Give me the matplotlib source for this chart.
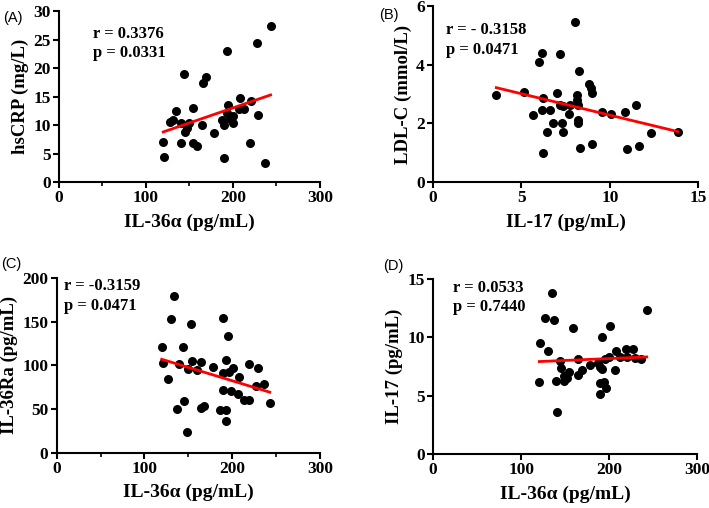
import numpy as np
import matplotlib
matplotlib.use("Agg")
import matplotlib.pyplot as plt
from matplotlib.ticker import MultipleLocator

plt.rcParams['font.family'] = ['Liberation Serif', 'DejaVu Serif']
plt.rcParams['font.weight'] = 'bold'

# (A) IL-36a vs hsCRP
a_x = [243.3, 227.6, 193.5, 144.1, 168.6, 165.2, 208.4, 193.9, 220.3, 154.4, 134.1, 206.5,
       213.0, 192.7, 228.4, 199.7, 187.7, 196.6, 200.4, 190.0, 178.5, 164.7, 127.6, 131.4,
       139.9, 149.8, 146.8, 144.8, 119.9, 139.9, 154.4, 159.0, 219.5, 121.0, 190.0, 236.8]
a_y = [27.4, 24.4, 22.9, 19.0, 18.5, 17.3, 14.8, 13.5, 14.2, 12.9, 12.5, 12.8,
       12.8, 12.05, 11.75, 11.6, 10.9, 11.05, 10.3, 10.0, 8.65, 10.0, 10.6, 10.9,
       10.3, 10.3, 9.4, 8.8, 7.1, 6.8, 6.8, 6.3, 6.8, 4.4, 4.3, 3.4]

# (B) IL-17 vs LDL-C
b_x = [8.03, 3.58, 5.16, 6.18, 6.01, 7.18, 8.27, 8.84, 8.92, 8.97, 6.24, 7.01, 8.13,
       8.16, 8.22, 7.18, 7.37, 7.75, 6.6, 6.15, 5.67, 7.7, 9.54, 10.05, 10.86, 11.48,
       6.8, 7.28, 8.22, 8.22, 6.43, 7.37, 12.31, 13.83, 6.2, 8.31, 8.99, 10.95, 11.65]
b_y = [5.44, 2.97, 3.08, 4.39, 4.10, 4.36, 3.78, 3.34, 3.19, 3.02, 2.85, 3.02, 2.97,
       2.80, 2.62, 2.62, 2.59, 2.62, 2.45, 2.45, 2.28, 2.32, 2.39, 2.32, 2.38, 2.63,
       2.0, 2.02, 2.11, 2.02, 1.71, 1.71, 1.68, 1.69, 0.98, 1.17, 1.30, 1.11, 1.24]

# (C) IL-36a vs IL-36Ra
c_x = [133.6, 129.9, 153.4, 189.5, 194.8, 119.6, 143.6, 120.8, 139.3, 154.2, 164.4, 149.3,
       159.5, 177.7, 193.3, 200.5, 196.0, 189.8, 219.4, 229.7, 207.7, 126.8, 236.2, 226.7,
       189.1, 198.9, 206.2, 213.4, 218.8, 242.7, 145.0, 137.0, 164.4, 167.8, 186.4, 192.9,
       193.3, 148.5]
c_y = [179.4, 153.4, 147.3, 153.9, 133.6, 120.7, 121.4, 103.0, 101.9, 104.6, 104.2, 96.2,
       95.0, 98.5, 106.1, 97.0, 92.0, 90.9, 101.5, 97.3, 87.0, 84.7, 79.0, 76.4,
       71.8, 70.6, 67.6, 60.7, 60.7, 56.5, 59.5, 49.7, 51.2, 53.8, 49.2, 49.2,
       36.0, 23.7]

# (D) IL-36a vs IL-17
d_x = [134.7, 242.6, 127.1, 137.7, 159.3, 200.6, 192.2, 121.5, 130.9, 208.1, 219.1, 227.4,
       212.3, 220.2, 229.6, 236.1, 195.6, 200.1, 144.5, 164.9, 178.5, 187.6, 189.6, 191.5,
       206.6, 145.3, 168.8, 154.4, 164.9, 149.0, 151.8, 149.0, 120.7, 140.0, 189.6, 194.1,
       196.4, 189.6, 140.4]
d_y = [13.8, 12.3, 11.66, 11.49, 10.83, 10.97, 10.03, 9.54, 8.83, 8.85, 9.03, 9.0,
       8.29, 8.29, 8.23, 8.12, 8.17, 8.29, 8.0, 8.17, 7.65, 7.77, 7.43, 7.26,
       7.2, 7.35, 7.2, 7.05, 6.77, 6.69, 6.49, 6.28, 6.2, 6.26, 6.11, 6.2,
       5.66, 5.14, 3.57]

panels = [
    dict(tag="(A)", x=a_x, y=a_y, xlim=300, xstep=100, xminor=50, ylim=30, ystep=5,
         xlabel="IL-36α (pg/mL)", ylabel="hsCRP (mg/L)", r="r = 0.3376", p="p = 0.0331",
         rect=[0.0832, 0.6417, 0.368, 0.3366], txt=(0.13, 0.865, 0.754), tagpos=(0.004, 0.978)),
    dict(tag="(B)", x=b_x, y=b_y, xlim=15, xstep=5, xminor=None, ylim=6, ystep=2,
         xlabel="IL-17 (pg/mL)", ylabel="LDL-C (mmol/L)", r="r = - 0.3158", p="p = 0.0471",
         rect=[0.6107, 0.6417, 0.3742, 0.3465], txt=(0.048, 0.864, 0.75), tagpos=(0.535, 0.985)),
    dict(tag="(C)", x=c_x, y=c_y, xlim=300, xstep=100, xminor=50, ylim=200, ystep=50,
         xlabel="IL-36α (pg/mL)", ylabel="IL-36Ra (pg/mL)", r="r = -0.3159", p="p = 0.0471",
         rect=[0.080, 0.1089, 0.3714, 0.3439], txt=(0.029, 0.956, 0.841), tagpos=(0.002, 0.495)),
    dict(tag="(D)", x=d_x, y=d_y, xlim=300, xstep=100, xminor=None, ylim=15, ystep=5,
         xlabel="IL-36α (pg/mL)", ylabel="IL-17 (pg/mL)", r="r = 0.0533", p="p = 0.7440",
         rect=[0.6107, 0.1063, 0.3728, 0.3445], txt=(0.077, 0.947, 0.838), tagpos=(0.541, 0.49)),
]

fig = plt.figure(figsize=(7.09, 5.08), dpi=100)

for pn in panels:
    ax = fig.add_axes(pn["rect"])
    x = np.array(pn["x"])
    y = np.array(pn["y"])
    ax.scatter(x, y, s=30, color="black", zorder=3, clip_on=False)
    k, b = np.polyfit(x, y, 1)
    xs = np.array([x.min(), x.max()])
    ax.plot(xs, k * xs + b, color="red", lw=2.0, zorder=4)

    ax.set_xlim(0, pn["xlim"])
    ax.set_ylim(0, pn["ylim"])
    ax.xaxis.set_major_locator(MultipleLocator(pn["xstep"]))
    if pn["xminor"]:
        ax.xaxis.set_minor_locator(MultipleLocator(pn["xminor"]))
    ax.yaxis.set_major_locator(MultipleLocator(pn["ystep"]))
    for s in ["top", "right"]:
        ax.spines[s].set_visible(False)
    for s in ["left", "bottom"]:
        ax.spines[s].set_linewidth(1.5)
    ax.tick_params(which="major", length=4, width=1.5, labelsize=12.5, pad=2)
    ax.tick_params(which="minor", length=3, width=1.2)
    for lab in ax.get_xticklabels() + ax.get_yticklabels():
        lab.set_fontweight("bold")

    ax.set_xlabel(pn["xlabel"], fontsize=14, fontweight="bold", labelpad=5)
    ax.set_ylabel(pn["ylabel"], fontsize=13.5, fontweight="bold", labelpad=3)

    tx, ty1, ty2 = pn["txt"]
    ax.text(tx, ty1, pn["r"], transform=ax.transAxes, fontsize=12, fontweight="bold", va="center")
    ax.text(tx, ty2, pn["p"], transform=ax.transAxes, fontsize=12, fontweight="bold", va="center")

    fig.text(pn["tagpos"][0], pn["tagpos"][1], pn["tag"], fontsize=10.5, fontweight="normal",
             family="Liberation Sans", va="top", ha="left")

fig.savefig("out.png", dpi=100)
